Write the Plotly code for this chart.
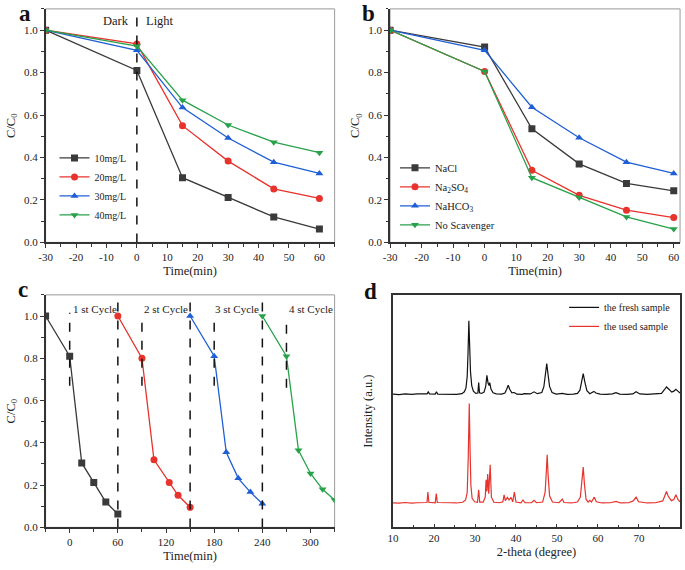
import plotly.graph_objects as go

# ---------------- data ----------------
time_ab = [-30, 0, 15, 30, 45, 60]
time_ab_ticks = [-30, -20, -10, 0, 10, 20, 30, 40, 50, 60]
time_ab_ticktext = ["-30", "-20", "-10", "0", "10", "20", "30", "40", "50", "60"]
time_c_ticks = [0, 60, 120, 180, 240, 300]
theta_ticks = [10, 20, 30, 40, 50, 60, 70, 80]

a_names = ["10mg/L", "20mg/L", "30mg/L", "40mg/L"]
a_10 = [1.0, 0.81, 0.305, 0.212, 0.12, 0.063]
a_20 = [1.0, 0.935, 0.55, 0.383, 0.252, 0.207]
a_30 = [1.0, 0.905, 0.635, 0.492, 0.378, 0.325]
a_40 = [1.0, 0.925, 0.67, 0.553, 0.472, 0.423]

b_names = ["NaCl", "Na<sub>2</sub>SO<sub>4</sub>", "NaHCO<sub>3</sub>", "No Scavenger"]
b_nacl = [1.0, 0.92, 0.535, 0.37, 0.278, 0.243]
b_na2so4 = [1.0, 0.805, 0.34, 0.222, 0.152, 0.117]
b_nahco3 = [1.0, 0.905, 0.637, 0.493, 0.378, 0.325]
b_none = [1.0, 0.805, 0.305, 0.212, 0.12, 0.063]

c1_t = [-30, 0, 15, 30, 45, 60]
c1_v = [1.0, 0.81, 0.305, 0.212, 0.12, 0.063]
c2_t = [60, 90, 105, 124, 135, 150]
c2_v = [1.0, 0.80, 0.32, 0.212, 0.152, 0.095]
c3_t = [150, 180, 195, 210, 225, 240]
c3_v = [1.0, 0.81, 0.355, 0.232, 0.167, 0.112]
c4_t = [240, 270, 285, 300, 315, 330]
c4_v = [1.0, 0.81, 0.365, 0.255, 0.18, 0.13]

c_cycle_labels = ["1 st Cycle", "2 st Cycle", "3 st Cycle", "4 st Cycle"]
c_label_x = [31, 120, 208, 300]
c_label_y = [1.035, 1.035, 1.035, 1.035]
c_dash_x = [0, 60, 90, 150, 180, 240, 270]
c_dash_lo = [0.67, 0.0, 0.67, 0.0, 0.67, 0.0, 0.66]
c_dash_hi = [1.015, 1.1, 1.01, 1.1, 1.01, 1.1, 0.995]

a_dash_x = [0, 0]
a_dash_y = [0.0, 1.1]
a_text = ["Dark", "Light"]
a_text_x = [-7, 7.5]
a_text_y = [1.045, 1.045]

fresh_2theta = [10, 11.5, 13, 14.5, 16, 17.5, 18.3, 18.6, 18.9, 20.3, 20.6, 20.9, 22.5, 24, 25.5,
                26.8, 27.4, 27.8, 28.1, 28.3, 28.5, 28.7, 28.9, 29.2, 29.6, 30.2, 30.7, 30.9, 31.1,
                31.6, 32.2, 32.6, 32.9, 33.2, 33.45, 33.6, 33.9, 34.4, 35.2, 36.5, 37.3, 37.7, 38.1,
                38.5, 39.0, 39.6, 40.2, 41.5, 42, 43.5, 44.4, 45.2, 46.3, 46.8, 47.2, 47.5, 47.8,
                48.2, 48.8, 49.8, 51.3, 52.5, 54, 55.0, 55.6, 56.0, 56.4, 56.8, 57.3, 58.0, 58.6,
                59.0, 59.5, 60.5, 62, 63.5, 64.4, 65.3, 67, 68.5, 69.3, 70.2, 72, 74, 75.5, 76.2,
                76.7, 77.3, 78.0, 78.5, 79.0, 79.5, 80]
fresh_int = [57.3, 57.1, 57.4, 57.2, 57.4, 57.2, 57.4, 58.3, 57.4, 57.3, 58.3, 57.3, 57.2, 57.4, 57.2,
             57.5, 58.3, 60.0, 65.0, 75.0, 88.9, 78.0, 67.0, 61.0, 58.6, 57.6, 57.8, 62.3, 57.9,
             57.6, 58.2, 60.5, 65.4, 62.0, 61.0, 62.3, 59.5, 57.9, 57.4, 57.3, 57.8, 59.3, 61.1,
             59.3, 57.9, 58.0, 57.3, 57.2, 57.5, 57.4, 58.3, 57.5, 58.0, 60.5, 65.5, 70.4, 66.0,
             60.5, 58.0, 57.3, 57.6, 57.2, 57.3, 57.6, 59.0, 62.5, 66.1, 62.5, 58.8, 57.5, 57.9,
             58.5, 57.8, 57.3, 57.2, 57.4, 57.9, 57.3, 57.2, 57.4, 58.3, 57.4, 57.2, 57.3, 57.6, 59.2,
             60.4, 59.4, 58.2, 58.6, 59.4, 58.6, 57.8]

used_2theta = [10, 11.5, 13, 14.5, 16, 17.5, 18.3, 18.5, 18.75, 20.3, 20.55, 20.8, 22.5, 24, 25.5,
               27.0, 27.7, 28.1, 28.35, 28.6, 28.8, 29.0, 29.3, 29.9, 30.6, 30.9, 31.15, 32.0, 32.5,
               32.7, 32.9, 33.1, 33.35, 33.7, 34.0, 34.6, 36.0, 36.8, 37.1, 37.4, 37.9, 38.3, 38.8,
               39.2, 39.6, 40.0, 41.2, 41.7, 42.2, 43.8, 44.4, 45.0, 46.5, 47.1, 47.4, 47.6, 47.85,
               48.2, 48.9, 50.5, 51.3, 51.7, 53.5, 55.0, 55.7, 56.1, 56.4, 56.7, 57.1, 57.6, 58.0,
               58.4, 59.1, 59.6, 61, 63, 64.4, 65.5, 67.5, 68.6, 69.3, 69.9, 72, 74, 75.8, 76.4,
               76.7, 77.1, 77.9, 78.5, 79.0, 79.5, 80]
used_int = [10.5, 10.4, 10.7, 10.4, 10.6, 10.5, 10.7, 15.2, 10.8, 10.6, 14.5, 10.7, 10.5, 10.6, 10.5,
            10.8, 11.8, 15.0, 30.0, 53.3, 33.0, 18.0, 12.5, 11.0, 10.8, 16.2, 10.9, 10.9, 13.0,
            20.5, 15.5, 22.9, 14.5, 26.9, 13.0, 10.8, 10.6, 11.0, 14.0, 11.5, 12.9, 11.8, 12.9,
            11.0, 15.2, 10.9, 10.6, 11.8, 10.6, 10.6, 11.6, 10.6, 10.9, 15.0, 24.0, 31.2, 22.0,
            13.5, 10.9, 10.6, 12.2, 10.7, 10.5, 10.9, 13.0, 19.0, 25.9, 18.5, 12.0, 10.9, 11.6,
            10.9, 13.0, 11.0, 10.5, 10.6, 11.2, 10.5, 10.6, 11.4, 13.0, 11.0, 10.5, 10.6, 11.4, 14.0,
            15.5, 13.5, 11.5, 12.0, 14.0, 12.0, 11.0]

# ---------------- style ----------------
FONT = "Liberation Serif"
BLACK = "#3a3a3a"
RED = "#e8322c"
BLUE = "#1f5fd6"
GREEN = "#27a24a"
colors = [BLACK, RED, BLUE, GREEN]
symbols = ["square", "circle", "triangle-up", "triangle-down"]

W, H = 685, 570


def px_x(p):
    return p / W


def px_y(p):
    return 1 - p / H


fig = go.Figure()

# panel a
for name, vals, col, sym in zip(a_names, [a_10, a_20, a_30, a_40], colors, symbols):
    fig.add_trace(go.Scatter(x=time_ab, y=vals, name=name, mode="lines+markers",
                             line=dict(color=col, width=1.3),
                             marker=dict(symbol=sym, size=7, color=col),
                             xaxis="x", yaxis="y", legend="legend"))
fig.add_trace(go.Scatter(x=a_dash_x, y=a_dash_y, mode="lines", showlegend=False,
                         line=dict(color="#111111", width=1.5, dash="dash"),
                         xaxis="x", yaxis="y"))

# panel b
for name, vals, col, sym in zip(b_names, [b_nacl, b_na2so4, b_nahco3, b_none], colors, symbols):
    fig.add_trace(go.Scatter(x=time_ab, y=vals, name=name, mode="lines+markers",
                             line=dict(color=col, width=1.3),
                             marker=dict(symbol=sym, size=7, color=col),
                             xaxis="x2", yaxis="y2", legend="legend2"))

# panel c
for t, v, col, sym in zip([c1_t, c2_t, c3_t, c4_t], [c1_v, c2_v, c3_v, c4_v], colors, symbols):
    fig.add_trace(go.Scatter(x=t, y=v, mode="lines+markers", showlegend=False,
                             line=dict(color=col, width=1.3),
                             marker=dict(symbol=sym, size=7, color=col),
                             xaxis="x3", yaxis="y3"))
for xd, lo, hi in zip(c_dash_x, c_dash_lo, c_dash_hi):
    fig.add_trace(go.Scatter(x=[xd, xd], y=[lo, hi], mode="lines", showlegend=False,
                             line=dict(color="#111111", width=1.5, dash="dash"),
                             xaxis="x3", yaxis="y3"))

# panel d
fig.add_trace(go.Scatter(x=fresh_2theta, y=fresh_int, mode="lines", name="the fresh sample",
                         line=dict(color="#111111", width=1.2),
                         xaxis="x4", yaxis="y4", legend="legend3"))
fig.add_trace(go.Scatter(x=used_2theta, y=used_int, mode="lines", name="the used sample",
                         line=dict(color=RED, width=1.2),
                         xaxis="x4", yaxis="y4", legend="legend3"))

tickfont = dict(family=FONT, size=11, color="#222222")
titlefont = dict(family=FONT, size=12.5, color="#222222")


def xax(domain, rng, minor_dtick, anchor, title, tickvals, ticktext=None, ticks="outside"):
    d = dict(domain=domain, range=rng, anchor=anchor, showgrid=False, zeroline=False,
             showline=True, linecolor="#333333", linewidth=1.5,
             ticks=ticks, ticklen=4, tickwidth=1.2, tickcolor="#333333",
             minor=dict(ticks=ticks, dtick=minor_dtick, tick0=0, ticklen=2.5, tickwidth=1,
                        tickcolor="#333333"),
             tickfont=tickfont, title=dict(text=title, font=titlefont, standoff=4),
             tickmode="array", tickvals=tickvals)
    if ticktext is not None:
        d["ticktext"] = ticktext
    return d


def yax(domain, anchor, title):
    return dict(domain=domain, range=[0, 1.1], anchor=anchor, showgrid=False, zeroline=False,
                showline=True, linecolor="#333333", linewidth=1.5,
                ticks="outside", ticklen=4, tickwidth=1.2, tickcolor="#333333",
                dtick=0.2, tick0=0, tickformat=".1f",
                minor=dict(ticks="outside", dtick=0.1, ticklen=2.5, tickwidth=1, tickcolor="#333333"),
                tickfont=tickfont, title=dict(text=title, font=titlefont, standoff=6))


dom_ax = [px_x(39), px_x(331)]
dom_bx = [px_x(387), px_x(680)]
dom_dx = [px_x(390), px_x(680)]
dom_top = [px_y(245), px_y(9)]
dom_bot = [px_y(533), px_y(298)]

fig.update_layout(
    width=W, height=H, margin=dict(l=0, r=0, t=0, b=0),
    paper_bgcolor="white", plot_bgcolor="white",
    font=dict(family=FONT, color="#222222"),
    xaxis=xax(dom_ax, [-30, 65], 5, "y", "Time(min)", time_ab_ticks, time_ab_ticktext),
    yaxis=yax(dom_top, "x", "C/C<sub>0</sub>"),
    xaxis2=xax(dom_bx, [-30, 62], 5, "y2", "Time(min)", time_ab_ticks, time_ab_ticktext),
    yaxis2=yax(dom_top, "x2", "C/C<sub>0</sub>"),
    xaxis3=xax(dom_ax, [-30, 330], 30, "y3", "Time(min)", time_c_ticks),
    yaxis3=yax(dom_bot, "x3", "C/C<sub>0</sub>"),
    xaxis4=xax(dom_dx, [10, 80.02], 5, "y4", "2-theta (degree)", theta_ticks, ticks="inside"),
    yaxis4=dict(domain=dom_bot, range=[0, 100], anchor="x4", showgrid=False, zeroline=False,
                showline=True, linecolor="#333333", linewidth=1.5, mirror=True,
                ticks="", showticklabels=False,
                title=dict(text="Intensity (a.u.)", font=titlefont, standoff=16)),
    legend=dict(x=px_x(48), y=px_y(145), xanchor="left", yanchor="top",
                font=dict(family=FONT, size=10), bgcolor="rgba(0,0,0,0)",
                tracegroupgap=0, itemwidth=30),
    legend2=dict(x=px_x(392), y=px_y(155), xanchor="left", yanchor="top",
                 font=dict(family=FONT, size=10.5), bgcolor="rgba(0,0,0,0)",
                 tracegroupgap=0, itemwidth=30),
    legend3=dict(x=px_x(676), y=px_y(296), xanchor="right", yanchor="top",
                 font=dict(family=FONT, size=10), bgcolor="rgba(0,0,0,0)",
                 tracegroupgap=0, itemwidth=30),
)
fig.update_layout(xaxis4=dict(mirror=True))

# light frame (top/right) for panels a, b, c
shapes = []
for xr, yr in [("x domain", "y domain"), ("x2 domain", "y2 domain"), ("x3 domain", "y3 domain")]:
    shapes.append(dict(type="rect", xref=xr, yref=yr, x0=0, x1=1, y0=0, y1=1,
                       line=dict(color="#9a9a9a", width=1), layer="below"))
fig.update_layout(shapes=shapes)

# annotations
ann = []
for txt, x, y in zip(a_text, a_text_x, a_text_y):
    ann.append(dict(text=txt, x=x, y=y, xref="x", yref="y", showarrow=False,
                    font=dict(family=FONT, size=12.5, color="#222222")))
for txt, x, y in zip(c_cycle_labels, c_label_x, c_label_y):
    ann.append(dict(text=txt, x=x, y=y, xref="x3", yref="y3", showarrow=False,
                    font=dict(family=FONT, size=11, color="#222222")))
for letter, lx, ly in [("a", 18, 0), ("b", 365, 0), ("c", 16, 279), ("d", 367, 281)]:
    ann.append(dict(text="<b>%s</b>" % letter, x=px_x(lx), y=px_y(ly), xref="paper", yref="paper",
                    xanchor="center", yanchor="top", borderpad=0,
                    showarrow=False, font=dict(family=FONT, size=23, color="#111111")))
fig.update_layout(annotations=ann)

fig.write_html("out.html", config={"displayModeBar": False},
               post_script="document.body.style.margin='0';document.body.style.overflow='hidden';")
